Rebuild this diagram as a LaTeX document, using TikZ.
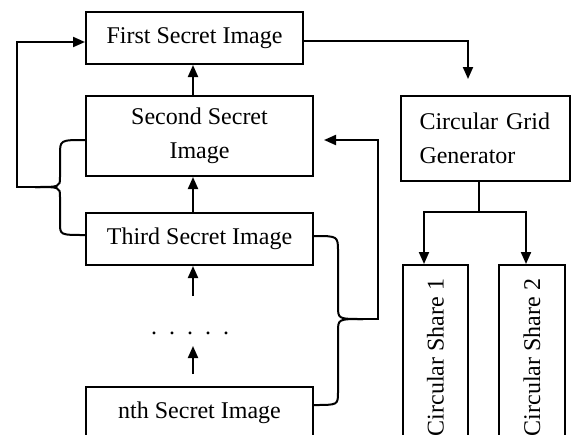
\documentclass[tikz,border=0pt]{standalone}
\usepackage{fontspec}
\setmainfont{Liberation Serif}
\usetikzlibrary{arrows.meta}

\begin{document}
\begin{tikzpicture}[x=0.5pt,y=-0.5pt,line width=1pt,font=\fontsize{12}{17}\selectfont,
  box/.style={draw,inner sep=0pt,align=center},
  arr/.style={-{Triangle[length=6pt,width=5pt]}}]
\useasboundingbox (0,0) rectangle (571,434);
\clip (0,0) rectangle (571,434);
\node[box,minimum width=108.5pt,minimum height=26pt] (first) at (194.5,38) {First Secret Image};
\node[box,minimum width=113.5pt,minimum height=40pt] (second) at (199.5,136) {Second Secret\\Image};
\node[box,minimum width=113.5pt,minimum height=26pt] (third) at (199.5,239) {Third Secret Image};
\node[minimum height=12pt,inner sep=0pt] (dots) at (190,333) {.\enspace.\enspace.\enspace.\enspace.};
\node[box,minimum width=113.5pt,minimum height=26pt] (nth) at (199.5,413) {nth Secret Image};
\node[box,minimum width=84.5pt,minimum height=42.5pt,text width=66pt,inner xsep=9.25pt,align=left] (grid) at (485.5,138.5) {Circular Grid\\Generator};
\node[box,rotate=90,minimum width=92.5pt,minimum height=32.5pt] (share1) at (435.5,357.5) {Circular Share 1};
\node[box,rotate=90,minimum width=92.5pt,minimum height=33pt] (share2) at (532,357.5) {Circular Share 2};
\coordinate (ax) at (193,0);
\coordinate (lt) at (35,187);
\coordinate (rt) at (363,319);
\coordinate (gin) at (468,0);
\coordinate (split) at (479,212);
\coordinate (s1) at (424,0);
\coordinate (s2) at (526,0);
\draw[arr] (ax |- second.north) -- (ax |- first.south);
\draw[arr] (ax |- third.north) -- (ax |- second.south);
\draw[arr,shorten <=12pt] (ax |- dots.north) -- (ax |- third.south);
\draw[arr,shorten <=6pt] (ax |- nth.north) -- (ax |- dots.south);
\draw ([yshift=-2pt]second.west) .. controls (60,140) .. (60,155) -- (60,177) .. controls (60,187) .. (lt);
\draw (lt) .. controls (60,187) .. (60,197) -- (60,223) .. controls (60,235) .. ([yshift=2pt]third.west);
\draw[arr] (lt) -- (17,187) |- ([yshift=-2pt]first.west);
\draw ([yshift=1.5pt]third.east) .. controls (338,236) .. (338,252) -- (338,306) .. controls (338,319) .. (rt);
\draw (rt) .. controls (338,319) .. (338,332) -- (338,392) .. controls (338,405) .. ([yshift=4pt]nth.east);
\draw[arr,shorten >=5pt] (rt) -- (378,319) |- ([yshift=-2pt]second.east);
\draw[arr,shorten >=8pt] ([yshift=-1.5pt]first.east) -| (gin |- grid.north);
\draw (split |- grid.south) -- (split);
\draw[arr] (split) -| (s1 |- share1.east);
\draw[arr] (split) -| (s2 |- share2.east);
\end{tikzpicture}
\end{document}
